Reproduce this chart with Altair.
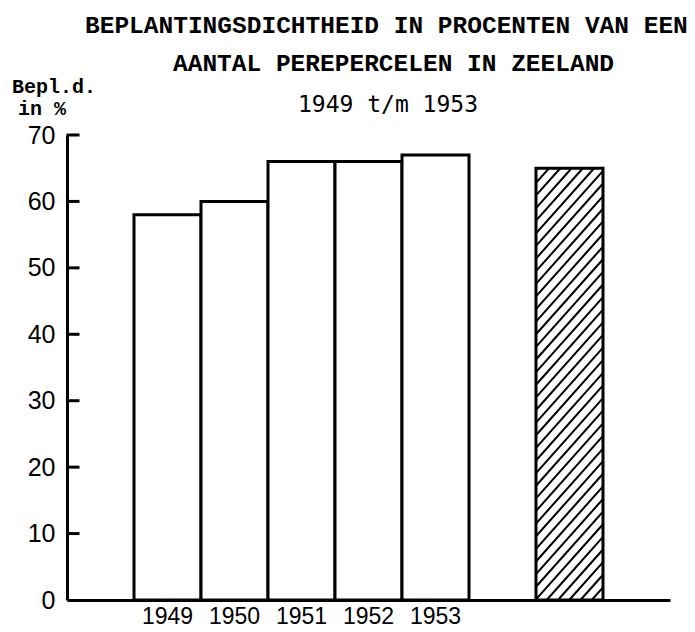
import altair as alt
import pandas as pd

# ---- data ----
title_lines = ["BEPLANTINGSDICHTHEID IN PROCENTEN VAN EEN",
               "AANTAL PEREPERCELEN IN ZEELAND"]
subtitle = "1949 t/m 1953"
y_title_lines = ["Bepl.d.", "in %"]

years = ["1949", "1950", "1951", "1952", "1953"]
density = [58, 60, 66, 66, 67]

ref_key = "ref"          # unlabelled hatched bar
ref_value = 65

slots = ["pad0"] + years + ["pad1", ref_key, "pad2"]
y_ticks = [0, 10, 20, 30, 40, 50, 60, 70]

# ---- styling ----
MONO = "Liberation Mono"
SANS = "Liberation Sans"
W, H = 603, 465
SLOPE = 11.3      # hatch rise (y units) per slot width
STEP = 1.9        # hatch vertical spacing (y units)

y_scale = alt.Scale(domain=[0, 70], nice=False, zero=True)

bars_df = pd.DataFrame({"slot": years + [ref_key], "value": density + [ref_value]})

bars = alt.Chart(bars_df).mark_bar(
    fill="white", stroke="black", strokeWidth=3
).encode(
    x=alt.X("slot:N",
            scale=alt.Scale(domain=slots, paddingInner=0, paddingOuter=0),
            axis=alt.Axis(title=None, ticks=False, domainWidth=3, domainColor="black",
                          labelExpr="test(/^19/, datum.label) ? datum.label : ''",
                          labelAngle=0, labelFont=SANS, labelFontSize=23,
                          labelColor="black", labelPadding=5)),
    y=alt.Y("value:Q", scale=y_scale,
            axis=alt.Axis(title=None, values=y_ticks, ticks=False, grid=False,
                          domainWidth=3, domainColor="black", labelFont=SANS,
                          labelFontSize=25, labelColor="black", labelPadding=12)),
)

i0 = slots.index(ref_key)
hatch = alt.Chart(alt.sequence(-SLOPE, ref_value, STEP, as_="k")).transform_filter(
    f"datum.k + {SLOPE} > 0 && datum.k < {ref_value}"
).transform_calculate(
    xa=f"datum.k < 0 ? {i0} - datum.k / {SLOPE} : {i0}",
    ya="max(datum.k, 0)",
    xb=f"datum.k + {SLOPE} > {ref_value} ? {i0} + ({ref_value} - datum.k) / {SLOPE} : {i0 + 1}",
    yb=f"min(datum.k + {SLOPE}, {ref_value})",
).mark_rule(color="black", strokeWidth=2).encode(
    x=alt.X("xa:Q", scale=alt.Scale(domain=[0, len(slots)], nice=False, zero=False), axis=None),
    x2="xb:Q",
    y=alt.Y("ya:Q", scale=y_scale, title=None),
    y2="yb:Q",
)

# inward-pointing tick marks on the y axis
ticks = alt.Chart(pd.DataFrame({"t": y_ticks[1:]})).mark_tick(
    color="black", orient="horizontal", size=13, thickness=3, opacity=1
).encode(
    y=alt.Y("t:Q", scale=y_scale, title=None),
    x=alt.value(6),
)


def text_layer(txt, x, y, font, size, weight="normal"):
    return alt.Chart(pd.DataFrame({"t": [txt]})).mark_text(
        align="left", baseline="middle", font=font, fontSize=size,
        fontWeight=weight, color="black"
    ).encode(text="t:N", x=alt.value(x), y=alt.value(y))


texts = [
    text_layer(title_lines[0], 18, -109, MONO, 24.5, "bold"),
    text_layer(title_lines[1], 106, -71, MONO, 24.5, "bold"),
    text_layer(subtitle, 231, -30, "DejaVu Sans Mono", 23),
    text_layer(y_title_lines[0], -55, -48, MONO, 20, "bold"),
    text_layer(y_title_lines[1], -49, -26, MONO, 20, "bold"),
]

chart = alt.layer(bars, hatch, ticks, *texts).resolve_scale(
    x="independent"
).properties(
    width=W, height=H,
    autosize=alt.AutoSizeParams(type="none"),
    padding={"left": 59, "top": 127, "right": 17, "bottom": 32},
    background="white",
).configure_view(stroke=None)

chart.save("out.html", embed_options={"renderer": "svg", "actions": False})
